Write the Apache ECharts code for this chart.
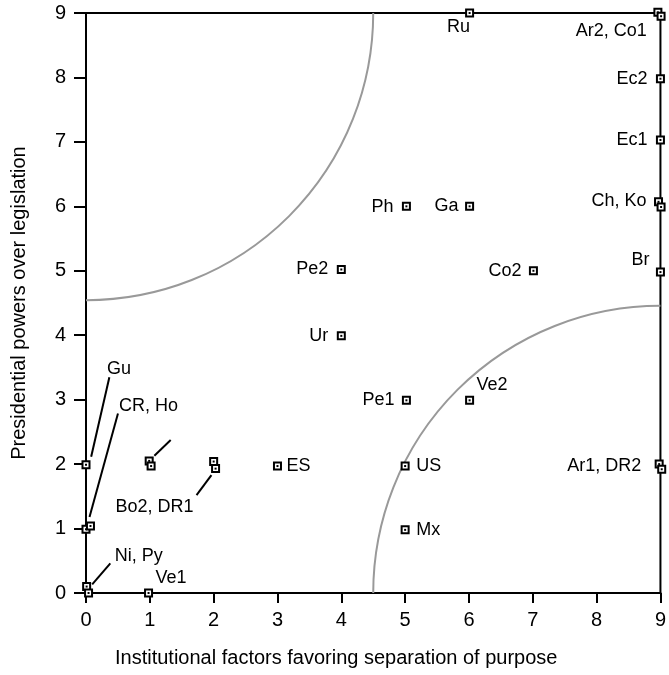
<!DOCTYPE html>
<html>
<head>
<meta charset="utf-8">
<script src="https://cdn.jsdelivr.net/npm/echarts@6/dist/echarts.min.js"></script>
<style>
  html, body { margin: 0; padding: 0; background: #fff; }
  #main { width: 669px; height: 675px; }
</style>
</head>
<body>
<div id="main"></div>
<script>
// country codes, with the two coordinates
var names  = ['Ru', 'Ar2', 'Co1', 'Ec2', 'Ec1', 'Ch', 'Ko', 'Br', 'Ph', 'Ga', 'Pe2', 'Co2', 'Ur', 'Pe1', 'Ve2',
              'ES', 'US', 'Mx', 'Ar1', 'DR2', 'Bo2', 'DR1', 'x1a', 'x1b', 'Gu', 'CR', 'Ho', 'Ni', 'Py', 'Ve1'];
var sepPurpose = [6.01, 8.96, 9.01, 9.0, 9.0, 8.97, 9.01, 9.0, 5.02, 6.01, 4.0, 7.01, 4.0, 5.02, 6.01,
                  3.0, 5.0, 5.0, 8.98, 9.02, 2.0, 2.03, 0.99, 1.02, 0.0, 0.0, 0.07, 0.01, 0.04, 0.98];
var presPowers = [9.0, 9.01, 8.95, 7.98, 7.03, 6.07, 5.99, 4.98, 6.0, 6.0, 5.02, 5.0, 3.99, 2.99, 2.99,
                  1.97, 1.97, 0.98, 2.0, 1.92, 2.04, 1.93, 2.05, 1.97, 1.99, 0.99, 1.04, 0.10, 0.0, 0.0];
// text shown for a point ('' = none)
var labels = ['Ru', 'Ar2, Co1', '', 'Ec2', 'Ec1', 'Ch, Ko', '', 'Br', 'Ph', 'Ga', 'Pe2', 'Co2', 'Ur', 'Pe1', 'Ve2',
              'ES', 'US', 'Mx', 'Ar1, DR2', '', '', 'Bo2, DR1', '', '', 'Gu', 'CR, Ho', '', 'Ni, Py', '', 'Ve1'];
var xTicks = [0, 1, 2, 3, 4, 5, 6, 7, 8, 9];
var yTicks = [0, 1, 2, 3, 4, 5, 6, 7, 8, 9];
// quarter circles: centre x, centre y, radius
var arcs = [[0, 9, 4.5], [9, 0, 4.5]];
// leader lines x1, y1, x2, y2
var leaders = [
    [0.081, 2.113, 0.366, 3.347],
    [0.055, 1.181, 0.501, 2.787],
    [0.097, 0.135, 0.381, 0.461],
    [1.071, 2.129, 1.327, 2.373],
    [1.965, 1.829, 1.732, 1.518]
];

// where each label sits relative to its marker: [align, dx, dy]
var labelPlace = {
    'Ru': ['center', -11, 14], 'Ar2': ['right', -11, 19], 'Ec2': ['right', -13, 0], 'Ec1': ['right', -13, 0],
    'Ch': ['right', -12, -1], 'Br': ['right', -11, -12], 'Ph': ['right', -13, 1], 'Ga': ['right', -11, 0],
    'Pe2': ['right', -13, 0], 'Co2': ['right', -12, 0], 'Ur': ['right', -13, 0], 'Pe1': ['right', -12, 0],
    'Ve2': ['left', 7, -15], 'ES': ['left', 9, 0], 'US': ['left', 11, 0], 'Mx': ['left', 11, 0],
    'Ar1': ['right', -18, 2], 'DR1': ['right', -22, 38], 'Gu': ['left', 21, -96], 'CR': ['left', 33, -123],
    'Ni': ['left', 28, -31], 'Ve1': ['left', 7, -15]
};

var FONT = 'Liberation Sans';

var pts = names.map(function (n, i) {
    var item = { name: n, value: [sepPurpose[i], presPowers[i]] };
    if (labels[i]) {
        var p = labelPlace[n];
        item.label = {
            show: true, formatter: labels[i], position: 'inside',
            align: p[0], verticalAlign: 'middle', offset: [p[1], p[2]]
        };
    }
    return item;
});
var dots = names.map(function (n, i) { return [sepPurpose[i], presPowers[i]]; });

var chartDom = document.getElementById('main');
var myChart = echarts.init(chartDom);
var option;

option = {
    animation: false,
    backgroundColor: '#fff',
    textStyle: { fontFamily: FONT },
    grid: {
        left: 86, right: 6, top: 13, bottom: 82,
        show: true, borderColor: '#000', borderWidth: 2
    },
    xAxis: {
        type: 'value', min: xTicks[0], max: xTicks[xTicks.length - 1], interval: 1,
        name: 'Institutional factors favoring separation of purpose',
        nameLocation: 'middle', nameGap: 55,
        nameTextStyle: { fontSize: 20, color: '#000', fontFamily: FONT, padding: [0, 74, 0, 0] },
        axisLine: { show: true, lineStyle: { color: '#000', width: 2 } },
        axisTick: { show: true, length: 10, lineStyle: { color: '#000', width: 2 } },
        axisLabel: { fontSize: 20, color: '#000', margin: 17, fontFamily: FONT },
        splitLine: { show: false }
    },
    yAxis: {
        type: 'value', min: yTicks[0], max: yTicks[yTicks.length - 1], interval: 1,
        name: 'Presidential powers over legislation',
        nameLocation: 'middle', nameGap: 57, nameRotate: 90,
        nameTextStyle: { fontSize: 20, color: '#000', fontFamily: FONT },
        axisLine: { show: true, lineStyle: { color: '#000', width: 2 } },
        axisTick: { show: true, length: 12, lineStyle: { color: '#000', width: 2 } },
        axisLabel: { fontSize: 20, color: '#000', margin: 20, fontFamily: FONT },
        splitLine: { show: false }
    },
    series: [
        {
            // the two grey quarter circles
            type: 'custom',
            data: arcs,
            encode: { x: 0, y: 1 },
            silent: true,
            z: 1,
            renderItem: function (params, api) {
                var c = api.coord([api.value(0), api.value(1)]);
                var r = api.size([api.value(2), 0])[0];
                var topLeft = api.value(0) === 0;
                return {
                    type: 'arc',
                    shape: {
                        cx: c[0], cy: c[1], r: r,
                        startAngle: topLeft ? 0 : Math.PI,
                        endAngle: topLeft ? Math.PI / 2 : Math.PI * 1.5
                    },
                    style: { stroke: '#999', fill: null, lineWidth: 2 }
                };
            }
        },
        {
            type: 'scatter',
            data: pts,
            symbol: 'rect',
            symbolSize: 7,
            clip: false,
            z: 3,
            itemStyle: { color: '#fff', borderColor: '#000', borderWidth: 2, opacity: 1 },
            label: { color: '#000', fontSize: 18, fontFamily: FONT },
            emphasis: { disabled: true }
        },
        {
            type: 'scatter',
            data: dots,
            symbol: 'rect',
            symbolSize: 2,
            clip: false,
            z: 4,
            itemStyle: { color: '#000', opacity: 1 },
            emphasis: { disabled: true },
            markLine: {
                silent: true,
                symbol: ['none', 'none'],
                label: { show: false },
                lineStyle: { color: '#000', width: 2, type: 'solid' },
                data: leaders.map(function (l) {
                    return [{ coord: [l[0], l[1]] }, { coord: [l[2], l[3]] }];
                })
            }
        }
    ]
};

option && myChart.setOption(option);
</script>
</body>
</html>
